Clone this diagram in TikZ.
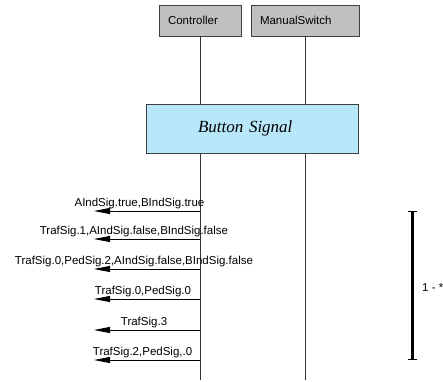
\documentclass[tikz,border=0pt]{standalone}
\usepackage{fontspec}
\setsansfont{Liberation Sans}
\newfontfamily\signalfont{Liberation Serif}
\usetikzlibrary{arrows.meta}
\definecolor{boxgray}{RGB}{192,192,192}
\definecolor{signalblue}{RGB}{185,231,250}

\begin{document}
\begin{tikzpicture}[x=1pt, y=-1pt, >={Triangle[length=16pt,width=6pt]},
    font=\sffamily\fontsize{11.5}{13}\selectfont,
    actor/.style={draw=black!75, fill=boxgray, minimum height=31pt,
      inner xsep=9pt, text width=#1, align=left},
    lifeline/.style={black!80, line width=0.8pt},
    msg/.style={->, line width=0.8pt},
    msglabel/.style={above, inner sep=1.5pt}]
    \useasboundingbox (0,0) rectangle (443,381);

    % Participants
    \node[actor=64pt] (ctrl) at (200,20.5) {Controller};
    \node[actor=90pt] (manual) at (305,20.5) {ManualSwitch};

    % Lifelines
    \coordinate (ctrlend) at (200,380);
    \coordinate (manualend) at (305,380);
    \draw[lifeline] (ctrl.south) -- (ctrlend);
    \draw[lifeline] (manual.south) -- (manualend);

    % Signal frame
    \node[draw=black!75, fill=signalblue, minimum width=212pt, minimum height=49pt,
      inner xsep=52pt, text width=108pt, align=left,
      font=\signalfont\itshape\fontsize{17}{19}\selectfont] (button) at (252,128.5) {Button Signal};

    % Messages
    \coordinate (s1) at (200,211); \coordinate (t1) at (94,211);
    \coordinate (s2) at (200,239); \coordinate (t2) at (94,239);
    \coordinate (s3) at (200,269); \coordinate (t3) at (94,269);
    \coordinate (s4) at (200,299); \coordinate (t4) at (94,299);
    \coordinate (s5) at (200,330); \coordinate (t5) at (94,330);
    \coordinate (s6) at (200,360); \coordinate (t6) at (94,360);
    \draw[msg] (s1) -- node[msglabel, pos=0.571] {AIndSig.true,BIndSig.true} (t1);
    \draw[msg] (s2) -- node[msglabel, pos=0.623] {TrafSig.1,AIndSig.false,BIndSig.false} (t2);
    \draw[msg] (s3) -- node[msglabel, pos=0.623] {TrafSig.0,PedSig.2,AIndSig.false,BIndSig.false} (t3);
    \draw[msg] (s4) -- node[msglabel, pos=0.538] {TrafSig.0,PedSig.0} (t4);
    \draw[msg] (s5) -- node[msglabel, pos=0.528] {TrafSig.3} (t5);
    \draw[msg] (s6) -- node[msglabel, pos=0.542] {TrafSig.2,PedSig,.0} (t6);

    % Loop bracket
    \coordinate (looptop) at (412.5,211);
    \coordinate (loopbot) at (412.5,360);
    \draw[line width=2.5pt, {Bar[width=9pt,line width=1.2pt]}-{Bar[width=9pt,line width=1.2pt]}] (looptop) -- (loopbot);
    \node[anchor=west, inner sep=0pt] (loopcount) at (422,288) {1 - *};
\end{tikzpicture}
\end{document}
